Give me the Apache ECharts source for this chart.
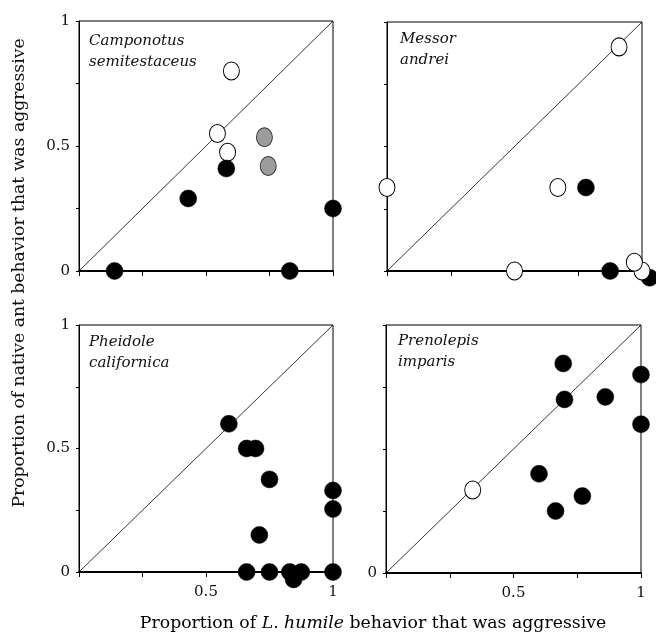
<!DOCTYPE html>
<html>
<head>
<meta charset="utf-8">
<script src="https://cdn.jsdelivr.net/npm/echarts@6/dist/echarts.min.js"></script>
<style>
  html, body { margin: 0; padding: 0; background: #fff; }
  #main { width: 656px; height: 636px; }
</style>
</head>
<body>
<div id="main"></div>
<script>
  // panel names
  var species = [['Camponotus', 'semitestaceus'], ['Messor', 'andrei'], ['Pheidole', 'californica'], ['Prenolepis', 'imparis']];

  // [x = L. humile aggressive, y = native ant aggressive]
  var camFilled = [[0.14, 0], [0.43, 0.29], [0.58, 0.41], [0.83, 0], [1.0, 0.25]];
  var camOpen = [[0.60, 0.80], [0.545, 0.55], [0.585, 0.475]];
  var camGray = [[0.73, 0.535], [0.745, 0.42]];

  var mesFilled = [[0.78, 0.335], [0.875, 0], [1.03, -0.027]];
  var mesOpen = [[0.0, 0.335], [0.67, 0.335], [0.91, 0.90], [0.50, 0], [1.0, 0], [0.97, 0.035]];

  var pheFilled = [[0.59, 0.60], [0.66, 0.50], [0.695, 0.50], [0.75, 0.375], [0.71, 0.15],
    [0.66, 0], [0.75, 0], [0.83, 0], [0.845, -0.03], [0.875, 0], [1.0, 0], [1.0, 0.33], [1.0, 0.255]];

  var preFilled = [[0.695, 0.845], [0.70, 0.70], [0.86, 0.71], [1.0, 0.80], [1.0, 0.60],
    [0.60, 0.40], [0.77, 0.31], [0.665, 0.25]];
  var preOpen = [[0.34, 0.335]];

  var diagonal = [[0, 0], [1, 1]];

  // tick labels shown on each panel
  var yLabels = [['0', '0.5', '1'], [], ['0', '0.5', '1'], ['0']];
  var xLabels = [[], [], ['0.5', '1'], ['0.5', '1']];

  var serif = 'DejaVu Serif';
  var grids = [
    { left: 79, top: 21, width: 254, height: 250 },
    { left: 387, top: 22, width: 255, height: 249 },
    { left: 79, top: 325, width: 254, height: 247 },
    { left: 386, top: 325, width: 255, height: 248 }
  ];

  function fmt(v) {
    if (v === 0) return '0';
    if (v === 0.5) return '0.5';
    if (v === 1) return '1';
    return '';
  }

  var xAxes = [], yAxes = [], series = [], graphics = [];
  for (let i = 0; i < 4; i++) {
    grids[i].show = true;
    grids[i].borderColor = '#000';
    grids[i].borderWidth = 1;
    let xl = xLabels[i], yl = yLabels[i];
    xAxes.push({
      type: 'value', gridIndex: i, min: 0, max: 1, interval: 0.25,
      splitLine: { show: false },
      axisLine: { show: true, onZero: false, lineStyle: { color: '#000', width: 1.8 } },
      axisTick: { show: true, length: 5, lineStyle: { color: '#000', width: 1 } },
      axisLabel: {
        show: xl.length > 0, margin: 13, color: '#111', fontFamily: serif, fontSize: 15,
        formatter: function (v) { var s = fmt(v); return xl.indexOf(s) >= 0 ? s : ''; }
      }
    });
    yAxes.push({
      type: 'value', gridIndex: i, min: 0, max: 1, interval: 0.25,
      splitLine: { show: false },
      axisLine: { show: true, onZero: false, lineStyle: { color: '#000', width: 1 } },
      axisTick: { show: true, length: 3, lineStyle: { color: '#000', width: 1 } },
      axisLabel: {
        show: yl.length > 0, margin: 9, color: '#111', fontFamily: serif, fontSize: 15,
        formatter: function (v) { var s = fmt(v); return yl.indexOf(s) >= 0 ? s : ''; }
      }
    });
    series.push({
      type: 'line', xAxisIndex: i, yAxisIndex: i, data: diagonal,
      symbol: 'none', silent: true, z: 1,
      lineStyle: { color: '#000', width: 0.8 }
    });
  }

  var filledStyle = { color: '#000', borderColor: '#000', borderWidth: 0.5, opacity: 1 };
  var openStyle = { color: '#fff', borderColor: '#000', borderWidth: 1, opacity: 1 };
  var grayStyle = { color: '#9c9c9c', borderColor: '#333', borderWidth: 1, opacity: 1 };

  function pts(idx, data, style, size, z) {
    return {
      type: 'scatter', xAxisIndex: idx, yAxisIndex: idx, data: data, clip: false,
      symbol: 'circle', symbolSize: size, itemStyle: style, z: z, silent: true
    };
  }

  series.push(pts(0, camOpen, openStyle, [16, 18], 3));
  series.push(pts(0, camGray, grayStyle, [16, 19], 4));
  series.push(pts(0, camFilled, filledStyle, [17, 17], 5));
  series.push(pts(1, mesFilled, filledStyle, [17, 17], 3));
  series.push(pts(1, mesOpen, openStyle, [16, 18], 4));
  series.push(pts(2, pheFilled, filledStyle, [17, 17], 3));
  series.push(pts(3, preFilled, filledStyle, [17, 17], 3));
  series.push(pts(3, preOpen, openStyle, [16, 18], 4));

  var labelPos = [[89, 31], [400, 29], [89, 332], [398, 331]];
  for (let i = 0; i < 4; i++) {
    graphics.push({
      type: 'text', x: labelPos[i][0], y: labelPos[i][1],
      style: {
        text: species[i].join('\n'), fill: '#111', lineHeight: 21,
        font: 'italic 15px "DejaVu Serif"', align: 'left', verticalAlign: 'top'
      }
    });
  }
  graphics.push({
    type: 'text', x: 20, y: 273, rotation: Math.PI / 2,
    style: {
      text: 'Proportion of native ant behavior that was aggressive', fill: '#111',
      font: '17.2px "DejaVu Serif"', align: 'center', verticalAlign: 'middle'
    }
  });
  graphics.push({
    type: 'text', x: 373, y: 624,
    style: {
      text: '{a|Proportion of }{i|L. humile}{a| behavior that was aggressive}',
      align: 'center', verticalAlign: 'middle',
      rich: {
        a: { fontFamily: serif, fontSize: 17.3, color: '#111' },
        i: { fontFamily: serif, fontSize: 17.3, fontStyle: 'italic', color: '#111' }
      }
    }
  });

  var myChart = echarts.init(document.getElementById('main'));
  var option = {
    animation: false,
    backgroundColor: '#fff',
    grid: grids,
    xAxis: xAxes,
    yAxis: yAxes,
    series: series,
    graphic: graphics
  };
  option && myChart.setOption(option);
</script>
</body>
</html>
